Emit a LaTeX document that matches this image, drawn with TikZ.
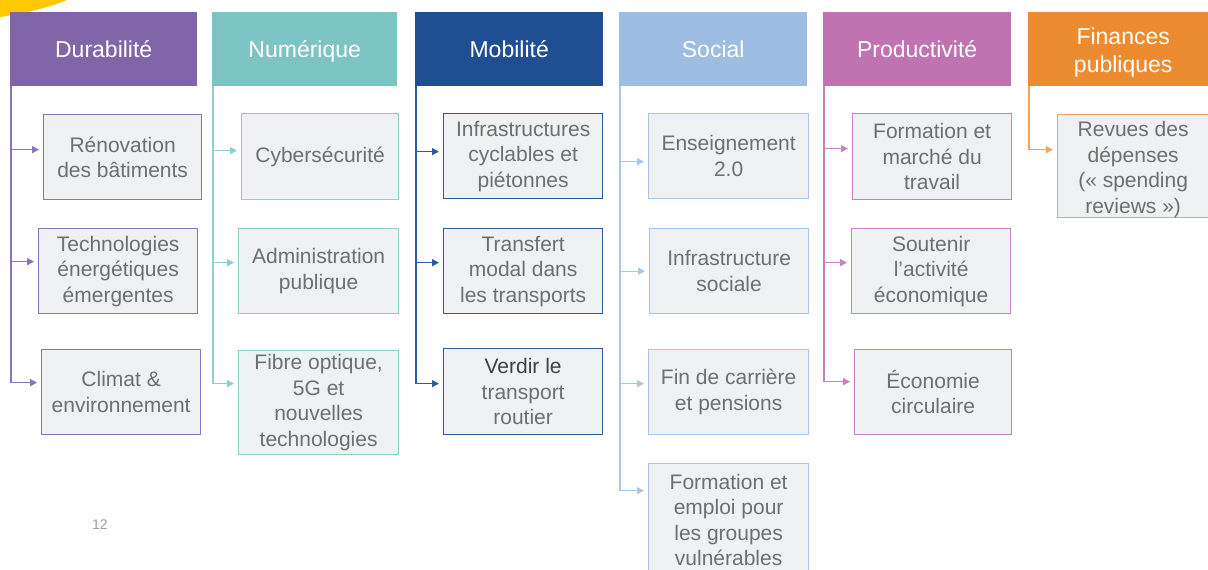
\documentclass[tikz,border=0pt]{standalone}
\usepackage{fontspec}
\setmainfont{Liberation Sans}
\usetikzlibrary{arrows.meta}
\definecolor{hDurC}{HTML}{8066A9}
\definecolor{hNumC}{HTML}{7FC4C4}
\definecolor{hMobC}{HTML}{1F4E92}
\definecolor{hSocC}{HTML}{9DBDE3}
\definecolor{hProC}{HTML}{BF73B0}
\definecolor{hFinC}{HTML}{ED8B30}
\definecolor{bDurC}{HTML}{8A73B6}
\definecolor{bNumC}{HTML}{8CCFCF}
\definecolor{bMobC}{HTML}{2E5A9E}
\definecolor{bSocC}{HTML}{A8C6EC}
\definecolor{bProC}{HTML}{C982BE}
\definecolor{bFinC}{HTML}{F3A35E}
\definecolor{boxfill}{HTML}{F0F1F3}
\definecolor{txtgray}{HTML}{6F6F6F}
\definecolor{darktxt}{HTML}{404040}
\definecolor{swoosh}{HTML}{FFC800}
\definecolor{pagegray}{HTML}{A0A0A0}
\begin{document}
\begin{tikzpicture}[x=1pt,y=-1pt,
  hdr/.style={rectangle, fill=#1, anchor=north west, minimum height=74pt,
    inner sep=0pt, text=white, font=\fontsize{23}{28}\selectfont, align=center,
    text height=17.5pt, text depth=0pt},
  item/.style={rectangle, draw=#1, line width=1.3pt, fill=boxfill, anchor=north west,
    inner sep=0pt, text=txtgray, font=\fontsize{21}{25.5}\selectfont, align=center},
  conn/.style={draw=#1, line width=1.3pt, -{Triangle[length=7pt,width=7pt]}, shorten >=4pt},
  pagenum/.style={text=pagegray, font=\fontsize{14}{16}\selectfont}
]
\useasboundingbox (0,0) rectangle (1208,570);
\clip (0,0) rectangle (1208,570);
\fill[white] (0,0) rectangle (1208,570);
\fill[swoosh] (0,0) -- (67,0) .. controls (45,9) and (20,14) .. (0,17) -- cycle;

% headers
\node[hdr=hDurC, minimum width=187pt] (hD) at (10,12) {Durabilité};
\node[hdr=hNumC, minimum width=185pt] (hN) at (212,12) {Numérique};
\node[hdr=hMobC, minimum width=188pt] (hM) at (415,12) {Mobilité};
\node[hdr=hSocC, minimum width=188pt] (hS) at (619,12) {Social};
\node[hdr=hProC, minimum width=188pt] (hP) at (823,12) {Productivité};
\node[hdr=hFinC, minimum width=190pt, text height=46pt, text depth=0pt] (hF) at (1028,12) {Finances\\publiques};

% Durabilite
\node[item=bDurC, minimum width=158pt, minimum height=85pt] (d1) at (43,114) {Rénovation\\des bâtiments};
\node[item=bDurC, minimum width=159pt, minimum height=85pt] (d2) at (38,228) {Technologies\\énergétiques\\émergentes};
\node[item=bDurC, minimum width=159pt, minimum height=85pt] (d3) at (41,349) {Climat \&\\environnement};
% Numerique
\node[item=bNumC, minimum width=157pt, minimum height=86pt] (n1) at (241,113) {Cybersécurité};
\node[item=bNumC, minimum width=160pt, minimum height=85pt] (n2) at (238,228) {Administration\\publique};
\node[item=bNumC, minimum width=160pt, minimum height=104pt] (n3) at (238,350) {Fibre optique,\\5G et\\nouvelles\\technologies};
% Mobilite
\node[item=bMobC, minimum width=159pt, minimum height=85pt] (m1) at (443,113) {Infrastructures\\cyclables et\\piétonnes};
\node[item=bMobC, minimum width=159pt, minimum height=85pt] (m2) at (443,228) {Transfert\\modal dans\\les transports};
\node[item=bMobC, minimum width=159pt, minimum height=86pt] (m3) at (443,348) {{\color{darktxt}Verdir le}\\transport\\routier};
% Social
\node[item=bSocC, minimum width=160pt, minimum height=85pt] (s1) at (648,113) {Enseignement\\2.0};
\node[item=bSocC, minimum width=159pt, minimum height=85pt] (s2) at (649,228) {Infrastructure\\sociale};
\node[item=bSocC, minimum width=160pt, minimum height=85pt] (s3) at (648,349) {Fin de carrière\\et pensions};
\node[item=bSocC, minimum width=160pt, minimum height=116pt] (s4) at (648,463) {\raisebox{-0.5pt}[\height][\depth]{\begin{tabular}{@{}c@{}}Formation et\\emploi pour\\les groupes\\vulnérables\end{tabular}}};
% Productivite
\node[item=bProC, minimum width=159pt, minimum height=86pt] (p1) at (852,113) {Formation et\\marché du\\travail};
\node[item=bProC, minimum width=159pt, minimum height=85pt] (p2) at (851,228) {Soutenir\\l’activité\\économique};
\node[item=bProC, minimum width=157pt, minimum height=85pt] (p3) at (854,349) {Économie\\circulaire};
% Finances
\node[item=bFinC, minimum width=160pt, minimum height=103pt] (f1) at (1057,114) {\hspace*{-9pt}\raisebox{-3.5pt}[\height][\depth]{\begin{tabular}{@{}c@{}}Revues des\\dépenses\\(« spending\\reviews »)\end{tabular}}};

% connectors
\draw[conn=bDurC] ([xshift=1pt]hD.south west) |- ([yshift=7.5pt]d1.west);
\draw[conn=bDurC] ([xshift=1pt]hD.south west) |- ([yshift=9.5pt]d2.west);
\draw[conn=bDurC] ([xshift=1pt]hD.south west) |- ([yshift=9.5pt]d3.west);
\draw[conn=bNumC] ([xshift=1pt]hN.south west) |- ([yshift=6pt]n1.west);
\draw[conn=bNumC] ([xshift=1pt]hN.south west) |- ([yshift=8.5pt]n2.west);
\draw[conn=bNumC] ([xshift=1pt]hN.south west) |- ([yshift=19pt]n3.west);
\draw[conn=bMobC] ([xshift=1pt]hM.south west) |- ([yshift=4.5pt]m1.west);
\draw[conn=bMobC] ([xshift=1pt]hM.south west) |- ([yshift=8.5pt]m2.west);
\draw[conn=bMobC] ([xshift=1pt]hM.south west) |- ([yshift=8pt]m3.west);
\draw[conn=bSocC] ([xshift=1pt]hS.south west) |- ([yshift=-5.5pt]s1.west);
\draw[conn=bSocC] ([xshift=1pt]hS.south west) |- (s2.west);
\draw[conn=bSocC] ([xshift=1pt]hS.south west) |- ([yshift=8.5pt]s3.west);
\draw[conn=bSocC] ([xshift=1pt]hS.south west) |- ([yshift=31pt]s4.west);
\draw[conn=bProC] ([xshift=1pt]hP.south west) |- ([yshift=8pt]p1.west);
\draw[conn=bProC] ([xshift=1pt]hP.south west) |- ([yshift=8.5pt]p2.west);
\draw[conn=bProC] ([xshift=1pt]hP.south west) |- ([yshift=10.5pt]p3.west);
\draw[conn=bFinC] ([xshift=1pt]hF.south west) |- ([yshift=16.5pt]f1.west);

\node[pagenum] (pg) at (100,525) {12};
\end{tikzpicture}
\end{document}
